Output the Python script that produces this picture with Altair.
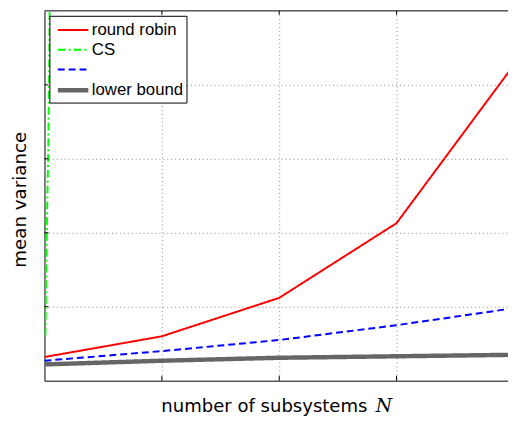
import altair as alt
import pandas as pd

# ---- data ----
x_vals = [0, 1, 2, 3, 4]
round_robin = [0.32, 0.60, 1.12, 2.13, 4.27]
blank_series = [0.27, 0.40, 0.55, 0.75, 0.98]
lower_bound = [0.22, 0.27, 0.31, 0.33, 0.35]
cs_x = [0.008, 0.019, 0.031, 0.040, 0.046]
cs_y = [0.61, 2.0, 3.0, 4.2, 5.5]

series_names = ["round robin", "CS", " ", "lower bound"]
series_colors = ["#ff0000", "#00ff00", "#0000ff", "#666666"]
series_dash = [[1, 0], [8, 3, 2, 3], [7, 4], [1, 0]]
series_width = [2.0, 2.0, 2.0, 4.5]

grid_x = [1, 2, 3]
grid_y = [1, 2, 3, 4]
x_max = 470 / 119
y_max = 5

rows = []
# lower bound first so that it is drawn underneath the other curves
for xs, ys, name in [(x_vals, lower_bound, "lower bound"),
                     (x_vals, blank_series, " "),
                     (cs_x, cs_y, "CS"),
                     (x_vals, round_robin, "round robin")]:
    for i, (a, b) in enumerate(zip(xs, ys)):
        rows.append({"x": a, "y": b, "series": name, "i": i})
df = pd.DataFrame(rows)

xscale = alt.Scale(domain=[0, x_max], nice=False, zero=False)
yscale = alt.Scale(domain=[0, y_max], nice=False, zero=False)

legend = alt.Legend(title=None, orient="none", legendX=5, legendY=5,
                    fillColor="white", strokeColor="black", padding=3,
                    labelFontSize=17, labelFont="Liberation Sans", labelColor="black",
                    symbolType="M-1.51,0H1.51", symbolSize=420,
                    symbolOffset=8.5, labelOffset=6.5,
                    rowPadding=0, labelLimit=0)

title_font = "DejaVu Sans"

lines = alt.Chart(df).mark_line(clip=True).encode(
    x=alt.X("x:Q", scale=xscale,
            axis=alt.Axis(values=grid_x, grid=True, labels=False, ticks=False,
                          domain=True, domainColor="black", domainWidth=1,
                          gridDash=[1, 3], gridColor="#888888",
                          title="number of subsystems", titleFontSize=18.3,
                          titleFont=title_font, titleFontWeight="normal",
                          titleColor="black", titlePadding=17,
                          titleX=118, titleAlign="left")),
    y=alt.Y("y:Q", scale=yscale,
            axis=alt.Axis(values=grid_y, grid=True, labels=False, ticks=False,
                          domain=True, domainColor="black", domainWidth=1,
                          gridDash=[1, 3], gridColor="#888888",
                          title="mean variance", titleFontSize=18.5,
                          titleFont=title_font, titleFontWeight="normal",
                          titleColor="black", titlePadding=15.5, titleY=191)),
    color=alt.Color("series:N", sort=series_names,
                    scale=alt.Scale(domain=series_names, range=series_colors),
                    legend=legend),
    strokeDash=alt.StrokeDash("series:N", sort=series_names,
                              scale=alt.Scale(domain=series_names, range=series_dash),
                              legend=legend),
    strokeWidth=alt.StrokeWidth("series:N", sort=series_names,
                                scale=alt.Scale(type="ordinal", domain=series_names,
                                                range=series_width),
                                legend=legend),
    order="i:Q",
)

xt = pd.DataFrame({"x": grid_x})
yt = pd.DataFrame({"y": grid_y})
bottom_ticks = alt.Chart(xt).mark_rule(color="black").encode(
    x=alt.X("x:Q", scale=xscale), y=alt.value(375), y2=alt.value(370))
top_ticks = alt.Chart(xt).mark_rule(color="black").encode(
    x=alt.X("x:Q", scale=xscale), y=alt.value(0), y2=alt.value(4))
left_ticks = alt.Chart(yt).mark_rule(color="black").encode(
    y=alt.Y("y:Q", scale=yscale), x=alt.value(0), x2=alt.value(4))
top_border = alt.Chart(xt.head(1)).mark_rule(color="black").encode(
    y=alt.value(0), x=alt.value(0), x2=alt.value(470))
n_label = alt.Chart(pd.DataFrame({"t": ["N"]})).mark_text(
    font="DejaVu Serif", fontStyle="italic", fontSize=19, align="left",
    baseline="alphabetic", color="black").encode(
    x=alt.value(336), y=alt.value(407), text="t:N")

chart = alt.layer(lines, bottom_ticks, top_ticks, left_ticks, top_border, n_label).properties(
    width=470, height=375, autosize="none",
    padding={"left": 37, "top": 0, "right": 0, "bottom": 40},
).configure_view(stroke=None)

chart.save("out.html", embed_options={"renderer": "svg", "actions": False})
